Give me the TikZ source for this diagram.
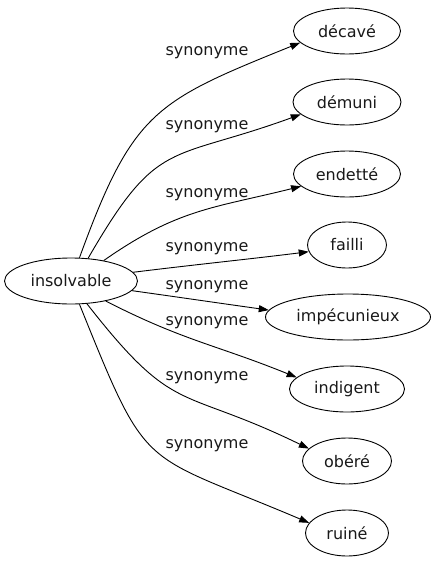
\documentclass[tikz,border=0pt]{standalone}
\usepackage{fontspec}
\setmainfont{DejaVu Sans}
\usetikzlibrary{arrows.meta, shapes.geometric}

\begin{document}
\begin{tikzpicture}[
  x=1pt, y=-1pt,
  every node/.style={font=\fontsize{16}{19}\selectfont, text=black!90},
  word/.style={ellipse, draw, line width=0.9pt, inner sep=0pt, minimum height=46pt},
  rel/.style={inner sep=0pt},
  syn/.style={line width=0.9pt, -{Triangle[length=10pt, width=7pt]}},
]
\useasboundingbox (0,0) rectangle (435,563);

% source word
\node[word, minimum width=133pt] (ins) at (71, 281) {insolvable};

% synonyms
\node[word, minimum width=107pt] (dec) at (347, 31) {décavé};
\node[word, minimum width=108pt] (dem) at (347, 102) {démuni};
\node[word, minimum width=107pt] (end) at (347, 174) {endetté};
\node[word, minimum width=79pt] (fai) at (347, 245) {failli};
\node[word, minimum width=165pt] (imp) at (348, 317) {impécunieux};
\node[word, minimum width=115pt] (ind) at (347, 389) {indigent};
\node[word, minimum width=89pt] (obe) at (347, 461) {obéré};
\node[word, minimum width=83pt] (rui) at (347, 533) {ruiné};

% edges
\draw[syn] (ins.70) to[out=70, in=202, looseness=1.3] (dec.194);
\draw[syn] (ins.53) to[out=60, in=200, looseness=1.4] (dem.195);
\draw[syn] (ins.32) to[out=35, in=194, looseness=1.1] (end.195);
\draw[syn] (ins.8) to[out=7, in=187] (fai.190);
\draw[syn] (ins.-9) to[out=-8, in=172] (imp.175);
\draw[syn] (ins.-30) to[out=-27, in=158, looseness=1.1] (ind.167);
\draw[syn] (ins.-55) to[out=-52, in=154, looseness=1.4] (obe.162);
\draw[syn] (ins.-70) to[out=-68, in=157, looseness=1.5] (rui.165);

% edge labels
\node[rel] (l1) at (207, 53) {synonyme};
\node[rel] (l2) at (207, 127) {synonyme};
\node[rel] (l3) at (207, 195) {synonyme};
\node[rel] (l4) at (207, 249) {synonyme};
\node[rel] (l5) at (207, 287) {synonyme};
\node[rel] (l6) at (207, 323) {synonyme};
\node[rel] (l7) at (207, 378) {synonyme};
\node[rel] (l8) at (207, 446) {synonyme};

\end{tikzpicture}
\end{document}
